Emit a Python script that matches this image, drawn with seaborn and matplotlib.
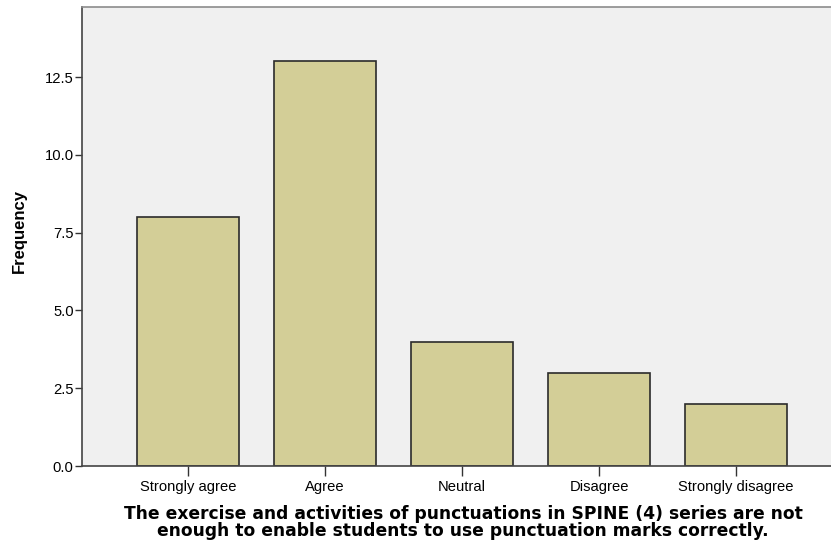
import matplotlib
matplotlib.use("Agg")
import matplotlib.pyplot as plt
import seaborn as sns
import pandas as pd

# responses and counts
categories = ["Strongly agree", "Agree", "Neutral", "Disagree", "Strongly disagree"]
frequency = [8, 13, 4, 3, 2]

df = pd.DataFrame({"response": categories, "freq": frequency})

sns.set_style("white")
plt.rcParams['font.family'] = ['Liberation Sans', 'DejaVu Sans']

fig = plt.figure(figsize=(8.31, 5.41), dpi=100)
ax = fig.add_axes([82 / 831, 75 / 541, 749 / 831, 459 / 541])
ax.set_facecolor("#F0F0F0")

sns.barplot(ax=ax, data=df, x="response", y="freq", order=categories,
            color="#D3CE97", edgecolor="#2B2B2B", linewidth=1.2,
            width=0.745, saturation=1)

ax.set_xlim(-0.774, 4.693)
ax.set_ylim(0, 14.75)
ax.set_yticks([0, 2.5, 5, 7.5, 10, 12.5])
ax.set_yticklabels(["0.0", "2.5", "5.0", "7.5", "10.0", "12.5"])

ax.spines['right'].set_visible(False)
ax.spines['top'].set_color("#8C8C8C")
ax.spines['left'].set_color("#444444")
ax.spines['bottom'].set_color("#444444")
for s in ['left', 'bottom', 'top']:
    ax.spines[s].set_linewidth(1.2)

ax.tick_params(axis='x', direction='out', length=7, width=1, color="#333333",
               labelsize=10.6, labelcolor="black", pad=3, bottom=True)
ax.tick_params(axis='y', direction='out', length=5, width=1, color="#333333",
               labelsize=10.6, labelcolor="black", pad=1, left=True)

ax.set_ylabel("Frequency", fontsize=12, fontweight="bold", color="black",
              labelpad=13)
ax.yaxis.label.set_y((466 - 231) / 459)
ax.set_xlabel("The exercise and activities of punctuations in SPINE (4) series are not\n"
              "enough to enable students to use punctuation marks correctly.",
              fontsize=12.3, fontweight="bold", color="black", family="DejaVu Sans",
              linespacing=0.95, labelpad=8)
ax.xaxis.label.set_x((463 - 82) / 749)

fig.savefig("out.png", dpi=100)
